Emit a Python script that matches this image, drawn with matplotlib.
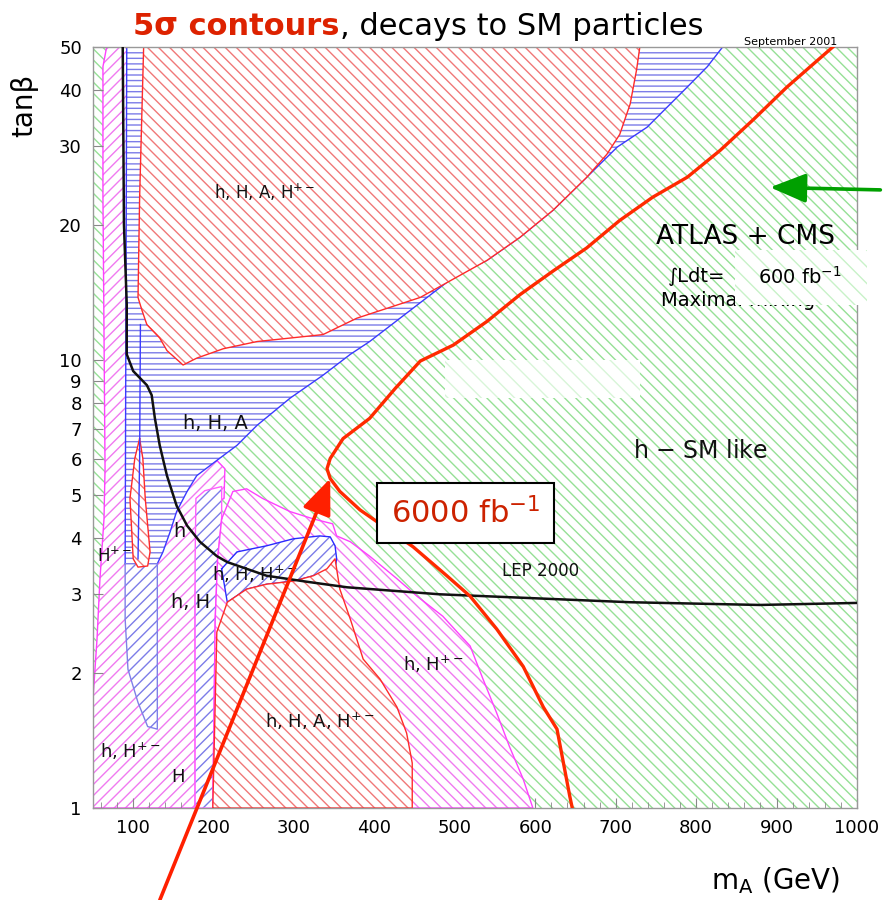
import matplotlib
matplotlib.use('Agg')
import matplotlib.pyplot as plt
from matplotlib.patches import Rectangle
from matplotlib.ticker import MultipleLocator, NullLocator

plt.rcParams['hatch.linewidth'] = 1.0

# region outlines: m_A [GeV], tan(beta)
red_top_m = [113, 108, 106, 111, 117, 133, 142, 162, 179, 212, 254, 336, 378, 457, 540, 581, 622, 664, 689, 705, 718, 726, 730]
red_top_tb = [50, 23.1, 13.8, 12.9, 12.0, 11.2, 10.5, 9.75, 10.1, 10.6, 11.0, 11.4, 12.4, 13.8, 16.7, 18.8, 21.6, 25.6, 28.8, 31.9, 37.3, 44.5, 50]

blue_top_m = [92, 833, 814, 789, 764, 739, 702, 664, 622, 581, 540, 498, 394, 370, 336, 295, 254, 229, 204, 179, 167, 154, 146, 137, 130, 90]
blue_top_tb = [50, 50, 45.2, 40.7, 36.7, 33.1, 29.9, 25.6, 21.6, 18.8, 16.7, 15.3, 11.0, 10.3, 9.25, 8.22, 7.15, 6.45, 5.97, 5.52, 5.09, 4.59, 4.14, 3.73, 3.51, 3.51]

blue_low_m = [90, 130, 130, 118, 106, 93.5, 90]
blue_low_tb = [3.51, 3.51, 1.50, 1.52, 1.72, 2.04, 2.64]

magenta_left_m = [67, 90, 96, 93.5, 92, 108, 183, 204, 214, 213, 189, 179, 177, 177, 50, 50, 55, 58.7, 63.7, 65, 62.4, 62.4]
magenta_left_tb = [50, 50, 48.8, 34.9, 13.8, 6.35, 5.72, 5.97, 5.72, 4.91, 4.66, 3.99, 2.93, 1, 1, 1.75, 2.38, 3.25, 4.42, 5.72, 23.1, 45.2]

red_sliver_m = [108, 102, 96, 100, 106, 118, 121, 115, 112]
red_sliver_tb = [6.68, 6.03, 4.91, 3.60, 3.45, 3.47, 3.73, 4.91, 6.03]

blue_col_m = [177, 177, 178, 189, 210, 210, 205, 202, 199]
blue_col_tb = [1, 3.60, 4.91, 5.11, 5.22, 4.42, 3.60, 2.64, 1]

magenta_mid_m = [210, 224, 241, 261, 295, 324, 348, 353, 370, 394, 428, 453, 485, 503, 519, 535, 552, 568, 585, 597, 199, 202, 205]
magenta_mid_tb = [4.42, 5.09, 5.16, 4.91, 4.59, 4.42, 4.31, 4.05, 3.93, 3.65, 3.25, 2.97, 2.68, 2.47, 2.30, 1.94, 1.63, 1.37, 1.16, 1, 1, 2.64, 3.60]

blue_blob_m = [210, 229, 266, 299, 332, 345, 351, 353, 351, 324, 299, 266, 241, 217]
blue_blob_tb = [3.42, 3.73, 3.85, 3.99, 4.05, 4.03, 3.85, 3.60, 3.42, 3.30, 3.21, 3.16, 3.08, 2.88]

red_low_m = [199, 204, 217, 241, 266, 299, 324, 341, 351, 357, 370, 386, 407, 428, 440, 447, 447]
red_low_tb = [1, 2.47, 2.88, 3.08, 3.16, 3.21, 3.30, 3.42, 3.60, 3.08, 2.64, 2.15, 1.94, 1.68, 1.47, 1.26, 1]

inner_blue_m = [109, 108, 106]
inner_blue_tb = [12.0, 6.0, 3.6]

# LEP 2000 exclusion line
lep_m = [87, 88.5, 92, 92, 100, 117, 123, 127, 133, 142, 154, 167, 183, 204, 217, 266, 316, 366, 481, 718, 879, 1000]
lep_tb = [50, 20.1, 13.3, 10.3, 9.45, 8.79, 8.35, 7.41, 6.45, 5.52, 4.73, 4.27, 3.93, 3.65, 3.54, 3.30, 3.20, 3.11, 3.00, 2.88, 2.84, 2.87]

# 5 sigma contour, ATLAS + CMS
c600_m = [970, 913, 871, 830, 789, 746, 705, 664, 622, 581, 540, 498, 457, 426, 394, 361, 345, 341, 345, 357, 382, 448, 490, 519, 552, 585, 610, 627, 643, 646]
c600_tb = [50, 40.7, 34.4, 29.4, 25.6, 23.1, 20.5, 17.8, 15.8, 14.0, 12.2, 10.8, 9.95, 8.65, 7.41, 6.68, 6.03, 5.72, 5.44, 5.09, 4.63, 3.83, 3.30, 2.97, 2.51, 2.07, 1.68, 1.50, 1.06, 1]

x_ticks = [100, 200, 300, 400, 500, 600, 700, 800, 900, 1000]
y_ticks = [1, 2, 3, 4, 5, 6, 7, 8, 9, 10, 20, 30, 40, 50]

# region labels
labels = [
    ('h, H, A, H$^{+-}$', 264, 23.7, 12),
    ('h, H, A', 202, 7.22, 14),
    ('h', 158, 4.14, 14),
    ('H$^{+-}$', 77, 3.65, 12),
    ('h, H, H$^{+-}$', 251, 3.33, 13),
    ('h, H', 171, 2.88, 14),
    ('LEP 2000', 606, 3.38, 12),
    ('h, H$^{+-}$', 473, 2.09, 13),
    ('h, H, A, H$^{+-}$', 332, 1.56, 13),
    ('h, H$^{+-}$', 96, 1.34, 13),
    ('H', 156, 1.17, 13),
    ('h $-$ SM like', 805, 6.28, 17),
]

HATCH_BS = '\\\\\\'   # three backslashes
HATCH_FS = '///'
HATCH_H = '---'

fig = plt.figure(figsize=(8.83, 9.0), dpi=100)
ax = fig.add_axes([0.1053, 0.1022, 0.8652, 0.8456])
ax.set_yscale('log')
ax.set_xlim(50, 1000)
ax.set_ylim(1, 50)

# green background (h SM-like)
ax.add_patch(Rectangle((0, 0), 1, 1, transform=ax.transAxes, facecolor='white',
                       edgecolor='#96e096', hatch=HATCH_BS, lw=0, zorder=0.5))


def region(m, tb, hatch, hcol, ecol, z):
    ax.fill(m, tb, facecolor='white', edgecolor=hcol, hatch=hatch, lw=0, zorder=z)
    ax.plot(m + [m[0]], tb + [tb[0]], color=ecol, lw=1, zorder=z + 0.05)


region(magenta_left_m, magenta_left_tb, HATCH_FS, '#f07af0', '#ff40ff', 1.0)
region(blue_top_m, blue_top_tb, HATCH_H, '#7c7ce8', '#3a3aff', 1.1)
region(blue_low_m, blue_low_tb, HATCH_FS, '#7c7ce8', '#8080e8', 1.2)
region(red_top_m, red_top_tb, HATCH_BS, '#f07878', '#ff2a2a', 1.3)
region(red_sliver_m, red_sliver_tb, HATCH_BS, '#f07878', '#ff2a2a', 1.4)
region(blue_col_m, blue_col_tb, HATCH_FS, '#7c7ce8', '#ff60ff', 1.5)
region(magenta_mid_m, magenta_mid_tb, HATCH_BS, '#f07af0', '#ff40ff', 1.6)
region(blue_blob_m, blue_blob_tb, HATCH_FS, '#7c7ce8', '#2a2aff', 1.7)
region(red_low_m, red_low_tb, HATCH_BS, '#f07878', '#ff2a2a', 1.8)

ax.plot(inner_blue_m, inner_blue_tb, color='#3a3aff', lw=1, zorder=2)
ax.plot(lep_m, lep_tb, color='#111111', lw=1.8, zorder=3)
ax.plot(c600_m, c600_tb, color='#ff2a00', lw=2.4, zorder=3, solid_joinstyle='round')

for txt, m, tb, fs in labels:
    ax.text(m, tb, txt, fontsize=fs, ha='center', va='center', color='#111111', zorder=4)

ax.text(861, 18.8, 'ATLAS + CMS', fontsize=19, ha='center', va='center', zorder=4)
ax.text(801, 15.4, '∫Ldt=', fontsize=14, ha='center', va='center', zorder=4)
ax.text(852, 13.6, 'Maximal mixing', fontsize=14, ha='center', va='center', zorder=4)

# pasted-over patches
ax.add_patch(Rectangle((848, 13.3), 1012 - 848, 17.6 - 13.3, facecolor='white',
                       edgecolor='#c8f2c8', hatch='\\\\', lw=0, zorder=5, clip_on=False))
ax.text(929, 15.3, '600 fb$^{-1}$', fontsize=14, ha='center', va='center', zorder=6, clip_on=False)
ax.add_patch(Rectangle((488, 8.22), 730 - 488, 10.0 - 8.22, facecolor='white',
                       edgecolor='#d8f5d8', hatch='\\\\', lw=0, zorder=5))

ax.text(513, 4.56, '6000 fb$^{-1}$', color='#cc2200', fontsize=22, ha='center', va='center', zorder=7,
        bbox=dict(boxstyle='square,pad=0.45', fc='white', ec='black', lw=1.5))

ax.annotate('', xy=(345, 5.44), xycoords='data', xytext=(0.181, 0.0), textcoords='figure fraction',
            arrowprops=dict(arrowstyle='-|>,head_length=1.1,head_width=0.45', color='#ff2000', lw=2.6,
                            mutation_scale=20, shrinkA=0, shrinkB=0), zorder=8, annotation_clip=False)
ax.annotate('', xy=(892, 24.3), xycoords='data', xytext=(0.997, 0.789), textcoords='figure fraction',
            arrowprops=dict(arrowstyle='-|>,head_length=1.1,head_width=0.45', color='#00a000', lw=2.6,
                            mutation_scale=20, shrinkA=0, shrinkB=0), zorder=8, annotation_clip=False)

# axes styling
ax.set_xticks(x_ticks)
ax.set_xticklabels([str(v) for v in x_ticks])
ax.xaxis.set_minor_locator(MultipleLocator(20))
ax.set_yticks(y_ticks)
ax.set_yticklabels([str(v) for v in y_ticks])
ax.yaxis.set_minor_locator(NullLocator())
ax.tick_params(which='both', direction='in', color='#888888', labelsize=13, pad=8)
ax.tick_params(which='major', length=7)
ax.tick_params(which='minor', length=4)
for s in ax.spines.values():
    s.set_color('#999999')
    s.set_linewidth(1)

fig.text(0.028, 0.883, 'tanβ', rotation=90, fontsize=20, ha='center', va='center')
fig.text(0.878, 0.022, 'm$_\\mathrm{A}$ (GeV)', fontsize=20, ha='center', va='center')

fig.text(0.385, 0.961, '5σ contours', color='#dd2200', weight='bold', fontsize=22, ha='right', va='baseline')
fig.text(0.385, 0.961, ', decays to SM particles', color='black', fontsize=22, ha='left', va='baseline')
fig.text(0.895, 0.953, 'September 2001', fontsize=8, ha='center', va='center')

fig.savefig('out.png', dpi=100)
